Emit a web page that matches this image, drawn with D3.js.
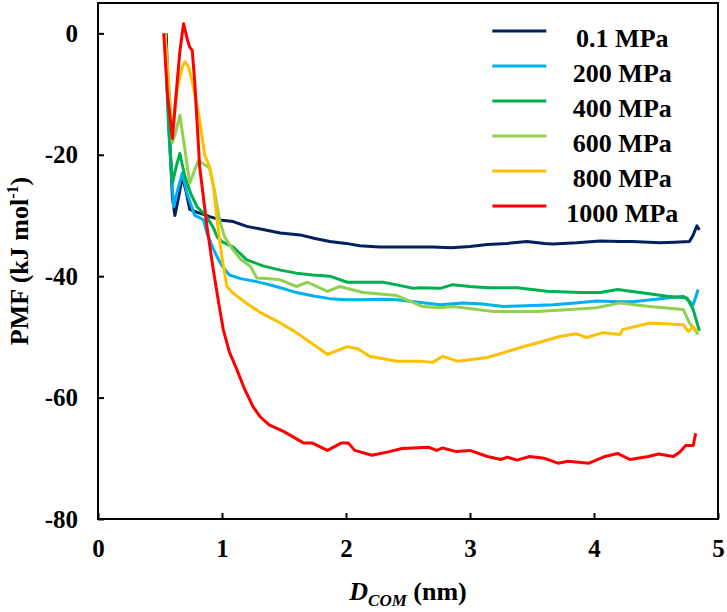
<!DOCTYPE html>
<html>
<head>
<meta charset="utf-8">
<script src="https://d3js.org/d3.v7.min.js"></script>
<style>
  body { margin: 0; background: #fff; }
  svg text { font-family: "Liberation Serif", "Times New Roman", serif; font-weight: bold; }
</style>
</head>
<body>
<div id="chart"></div>
<script>
// Series labels, in legend order
const pressures = ["0.1 MPa", "200 MPa", "400 MPa", "600 MPa", "800 MPa", "1000 MPa"];

// PMF curves, [D_COM (nm), PMF (kJ/mol)]
const pmf01 = [
    [0.55, 0], [0.57, -14], [0.60, -27], [0.62, -30], [0.65, -27], [0.68, -23.6], [0.71, -26],
    [0.74, -29], [0.80, -29.5], [0.85, -29.8], [0.90, -30.2], [1.00, -30.8], [1.09, -31],
    [1.20, -31.8], [1.30, -32.2], [1.47, -32.9], [1.63, -33.2], [1.75, -33.8], [1.87, -34.3],
    [2.00, -34.6], [2.11, -35], [2.27, -35.2], [2.50, -35.2], [2.70, -35.2], [2.85, -35.3],
    [3.00, -35.1], [3.14, -34.8], [3.30, -34.6], [3.46, -34.3], [3.60, -34.6], [3.67, -34.7],
    [3.86, -34.5], [4.05, -34.2], [4.21, -34.3], [4.31, -34.3], [4.53, -34.5], [4.65, -34.4],
    [4.77, -34.3], [4.80, -33.2], [4.83, -31.7], [4.85, -32.4]
];
const pmf200 = [
    [0.54, 0], [0.57, -16], [0.61, -28.6], [0.64, -26], [0.68, -23], [0.72, -26.5], [0.78, -30],
    [0.85, -30.7], [0.88, -33], [0.93, -35.5], [0.96, -36.8], [1.00, -38.3], [1.06, -39.8],
    [1.15, -40.4], [1.28, -40.9], [1.40, -41.5], [1.57, -42.5], [1.60, -42.7], [1.75, -43.3],
    [1.87, -43.7], [2.00, -43.9], [2.14, -43.9], [2.30, -43.8], [2.41, -43.9], [2.55, -44.2],
    [2.76, -44.7], [2.94, -44.4], [3.10, -44.6], [3.27, -45], [3.40, -44.9], [3.67, -44.7],
    [3.85, -44.4], [4.02, -44.1], [4.21, -44.2], [4.31, -44.2], [4.50, -43.8], [4.72, -43.3],
    [4.80, -44.7], [4.84, -42.2]
];
const pmf400 = [
    [0.54, 0], [0.57, -15], [0.60, -24.7], [0.63, -22], [0.66, -19.8], [0.70, -23.5], [0.75, -26.5],
    [0.80, -28.6], [0.87, -30], [0.93, -32], [0.96, -33.5], [1.00, -34.3], [1.09, -35.2],
    [1.20, -37.3], [1.33, -38.3], [1.47, -39], [1.60, -39.5], [1.73, -39.8], [1.87, -40],
    [2.01, -41], [2.20, -41], [2.30, -41], [2.45, -41.6], [2.54, -42], [2.60, -41.9], [2.76, -42],
    [2.86, -41.4], [3.00, -41.7], [3.14, -41.9], [3.38, -41.9], [3.62, -42.5], [3.89, -42.7],
    [4.05, -42.7], [4.19, -42.2], [4.37, -42.7], [4.59, -43.3], [4.75, -43.6], [4.80, -45.5],
    [4.85, -49]
];
const pmf600 = [
    [0.54, 0], [0.57, -8], [0.60, -18], [0.63, -16], [0.66, -13.5], [0.70, -19], [0.74, -24.7],
    [0.78, -22.5], [0.81, -20.9], [0.85, -21.5], [0.90, -22.2], [0.94, -26], [0.98, -30.7],
    [1.02, -33.5], [1.09, -35.7], [1.15, -37.2], [1.23, -38.4], [1.28, -40.3], [1.36, -40.4],
    [1.47, -40.6], [1.60, -41.7], [1.69, -41], [1.85, -42.5], [1.95, -41.7], [2.14, -42.7],
    [2.41, -43.2], [2.62, -45], [2.76, -45.2], [2.86, -45], [3.19, -45.8], [3.54, -45.8],
    [3.81, -45.5], [4.02, -45.2], [4.21, -44.4], [4.45, -45], [4.72, -45.5], [4.77, -47.7],
    [4.84, -49.6]
];
const pmf800 = [
    [0.54, 0], [0.57, -10], [0.60, -16], [0.64, -9], [0.68, -5.5], [0.70, -4.7], [0.73, -5.5],
    [0.76, -8], [0.80, -12], [0.82, -14.3], [0.86, -20], [0.90, -22], [0.93, -25], [0.96, -30.7],
    [1.00, -37], [1.04, -41.7], [1.09, -42.8], [1.20, -44.5], [1.31, -46], [1.47, -47.7],
    [1.60, -49.3], [1.79, -52], [1.85, -52.9], [2.01, -51.6], [2.10, -52], [2.19, -53.2],
    [2.41, -54], [2.60, -54], [2.70, -54.2], [2.78, -53.2], [2.90, -54], [3.14, -53.4],
    [3.40, -51.8], [3.54, -51], [3.73, -49.9], [3.86, -49.5], [3.94, -50.1], [4.07, -49.3],
    [4.21, -49.6], [4.23, -48.8], [4.45, -47.7], [4.72, -48], [4.76, -49.1], [4.80, -48.3],
    [4.83, -49.1]
];
const pmf1000 = [
    [0.53, 0], [0.56, -10], [0.60, -17.3], [0.63, -10], [0.66, -3], [0.69, 1.6], [0.72, -1],
    [0.74, -2.3], [0.76, -2.8], [0.78, -8], [0.80, -15], [0.82, -22], [0.85, -27], [0.88, -32],
    [0.93, -39], [0.97, -44], [1.01, -48.8], [1.06, -52.5], [1.12, -55.4], [1.18, -58.5],
    [1.25, -61.5], [1.31, -63.2], [1.38, -64.5], [1.50, -65.6], [1.66, -67.5], [1.73, -67.5],
    [1.85, -68.7], [1.96, -67.5], [2.02, -67.5], [2.07, -68.7], [2.21, -69.5], [2.35, -68.9],
    [2.45, -68.4], [2.67, -68.2], [2.73, -68.7], [2.78, -68.3], [2.89, -68.9], [3.00, -68.7],
    [3.14, -69.7], [3.25, -70.2], [3.30, -69.8], [3.38, -70.3], [3.48, -69.7], [3.60, -70],
    [3.71, -70.8], [3.79, -70.5], [3.96, -70.8], [4.09, -69.7], [4.19, -69.2], [4.29, -70.2],
    [4.44, -69.7], [4.52, -69.3], [4.64, -69.7], [4.69, -69], [4.74, -67.9], [4.80, -67.9],
    [4.82, -65.9]
];

const xTicks = [0, 1, 2, 3, 4, 5];
const yTicks = [0, -20, -40, -60, -80];

const allSeries = [pmf01, pmf200, pmf400, pmf600, pmf800, pmf1000];
const colors = ["#002060", "#00B0F0", "#00B050", "#92D050", "#FFC000", "#FF0000"];

// Chart frame
const margin = { top: 3, right: 9, bottom: 93, left: 98 },
    width = 727 - margin.left - margin.right,
    height = 612 - margin.top - margin.bottom;

const svg = d3.select("#chart")
    .append("svg")
    .attr("width", 727)
    .attr("height", 612)
    .append("g")
    .attr("transform", `translate(${margin.left},${margin.top})`);

// Scales
const x = d3.scaleLinear().domain([0, 5]).range([0, width]);
const y = d3.scaleLinear().domain([-80, 5]).range([height, 0]);

// Axes, ticks pointing inward, plain hyphen for negatives
const xAxis = d3.axisBottom(x).tickValues(xTicks).tickSize(-6).tickPadding(20).tickFormat(d => String(d));
const yAxis = d3.axisLeft(y).tickValues(yTicks).tickSize(-6).tickPadding(20).tickFormat(d => String(d));

const gx = svg.append("g")
    .attr("transform", `translate(0,${height})`)
    .call(xAxis);
const gy = svg.append("g").call(yAxis);

[gx, gy].forEach(g => {
    g.select(".domain").remove();
    g.selectAll(".tick line").attr("stroke", "#000").attr("stroke-width", 2);
    g.selectAll(".tick text")
        .attr("fill", "#000")
        .style("font-size", "25px");
});

// Plot border
svg.append("rect")
    .attr("x", 0)
    .attr("y", 0)
    .attr("width", width)
    .attr("height", height)
    .attr("fill", "none")
    .attr("stroke", "#000")
    .attr("stroke-width", 2);

// Lines
const line = d3.line()
    .x(d => x(d[0]))
    .y(d => y(d[1]));

allSeries.forEach((s, i) => {
    svg.append("path")
        .datum(s)
        .attr("fill", "none")
        .attr("stroke", colors[i])
        .attr("stroke-width", 3)
        .attr("stroke-linejoin", "round")
        .attr("d", line);
});

// Axis titles
const xTitle = svg.append("text")
    .attr("x", width / 2)
    .attr("y", height + 81)
    .attr("text-anchor", "middle")
    .style("font-size", "26px");
xTitle.append("tspan").style("font-style", "italic").text("D");
xTitle.append("tspan").style("font-style", "italic").style("font-size", "17px")
    .attr("dy", 6).text("COM");
xTitle.append("tspan").attr("dy", -6).text(" (nm)");

const yTitle = svg.append("text")
    .attr("transform", `translate(${-margin.left + 28},${height / 2}) rotate(-90)`)
    .attr("text-anchor", "middle")
    .style("font-size", "26px");
yTitle.append("tspan").text("PMF (kJ mol");
yTitle.append("tspan").style("font-size", "16px").attr("dy", -10).text("-1");
yTitle.append("tspan").attr("dy", 10).text(")");

// Legend (labels sit a little below their line swatches)
const legend = svg.append("g")
    .attr("transform", `translate(${x(3.18)},${y(0.4)})`);

pressures.forEach((p, i) => {
    const row = legend.append("g").attr("transform", `translate(0,${i * 35})`);
    row.append("line")
        .attr("x1", 0).attr("x2", 54)
        .attr("y1", 0).attr("y2", 0)
        .attr("stroke", colors[i])
        .attr("stroke-width", 3);
    row.append("text")
        .attr("x", 130)
        .attr("y", 16)
        .attr("text-anchor", "middle")
        .style("font-size", "26px")
        .text(p);
});
</script>
</body>
</html>
